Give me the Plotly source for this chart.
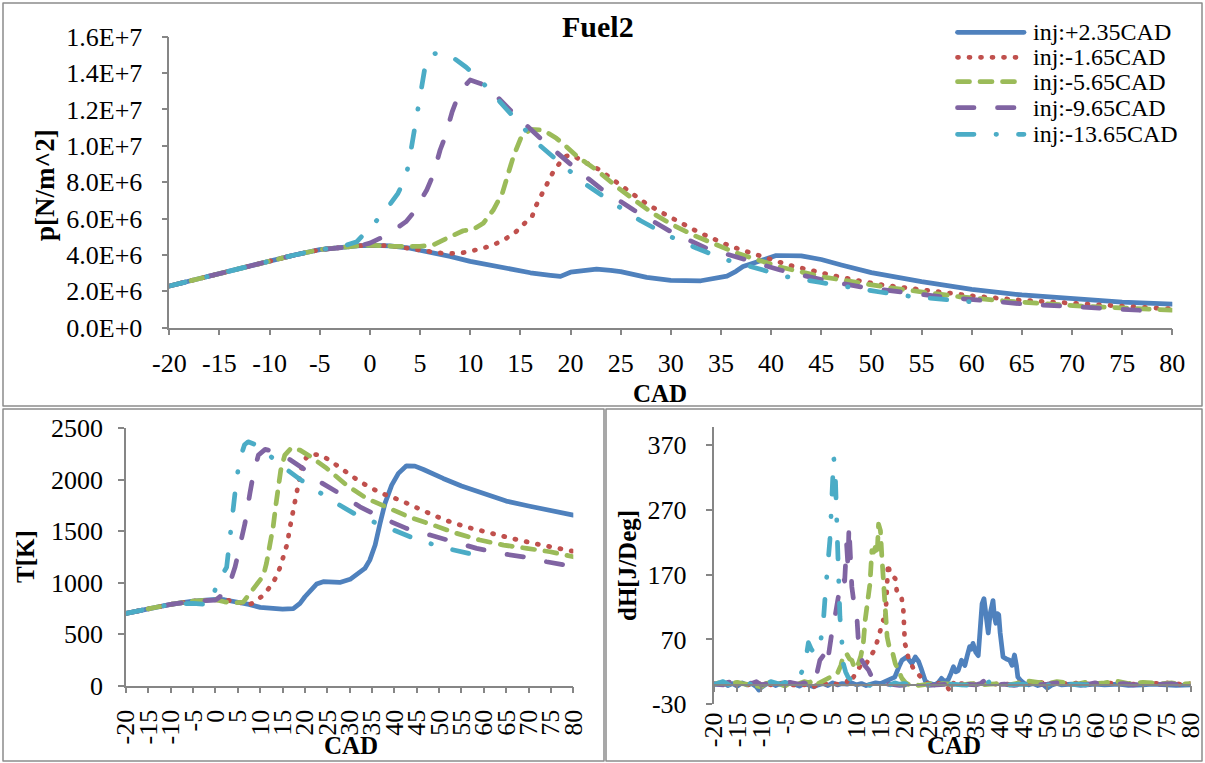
import plotly.graph_objects as go
import numpy as np

W, H = 1205, 763
def fx(px): return px / W
def fy(py): return 1 - py / H

FONT = "Liberation Serif"
SERIES = ["inj:+2.35CAD", "inj:-1.65CAD", "inj:-5.65CAD", "inj:-9.65CAD", "inj:-13.65CAD"]
COLORS = ["#4F81BD", "#C0504D", "#9BBB59", "#8064A2", "#4BACC6"]
DASHES = ["solid", "1px,10.5px", "12px,10.5px", "16.5px,23.5px", "16.5px,22px,0.5px,22px"]
LW = 4.75

cad_common = [-20, -16, -12.5, -10, -7.5, -5, -3, -1]
p_common = [2.29, 2.84, 3.36, 3.68, 4.00, 4.29, 4.43, 4.51]
p_cad = [
    cad_common + [0.5, 2, 4, 6, 8, 10, 12, 14, 16, 18, 19, 20, 21, 22.6, 24, 25, 27.6, 30, 33, 34.5, 35.6,
                  36.5, 37.2, 38.5, 39.5, 40.5, 43, 45, 47, 50, 55, 60, 65, 70, 75, 80],
    cad_common + [0.5, 2, 4.3, 6.7, 8, 9, 10.2, 11.3, 12.5, 13.5, 14.5, 15.3, 16.2, 16.6, 17.1, 17.6, 18.2,
                  18.9, 19.6, 20.2, 20.9, 22.8, 23.8, 24.8, 26.6, 27.6, 29.6, 30.8, 32.8, 35.9, 37.1, 38.3,
                  39.4, 41.7, 43.9, 46.2, 50.7, 55.5, 60.2, 64.8, 69.5, 74.1, 78.8, 80],
    cad_common + [0.5, 2.3, 5, 6.3, 7.3, 9.3, 10.3, 11.3, 12.3, 13.2, 13.8, 14.3, 15.1, 16, 17.3, 18.6, 19.6,
                  20.6, 22.6, 24.6, 26.6, 28.2, 30.2, 32.2, 34.2, 36.5, 38.5, 40.8, 45.1, 47.2, 51.8, 58.8,
                  63.1, 70.1, 74.8, 80],
    cad_common + [0, 1, 2.5, 3.6, 4.3, 5.0, 5.67, 6.3, 7, 7.5, 8.2, 8.7, 9.3, 10, 11, 11.8, 14.3, 17, 20.3,
                  23, 26.3, 30, 33.6, 37.6, 40.9, 45.2, 49.2, 56.9, 65.2, 73.2, 78],
    [-20, -16, -12.5, -10, -7.5, -5, -3, -1.3, -0.2, 1.4, 2.8, 3.6, 4.0, 4.6, 5.0, 5.5, 6.1, 7, 7.8, 9.6, 11,
     12.5, 14.6, 16.7, 19, 21.6, 24.3, 27, 29.6, 32.6, 35.6, 38.6, 41.6, 44.8, 47.8, 51, 54.2, 57.3, 59.8],
]
p_val = [
    p_common + [4.53, 4.50, 4.37, 4.17, 3.92, 3.65, 3.45, 3.20, 3.02, 2.88, 2.82, 3.05, 3.13, 3.22, 3.15,
                3.08, 2.77, 2.60, 2.58, 2.70, 2.84, 3.10, 3.36, 3.60, 3.82, 3.97, 3.95, 3.75, 3.45, 3.03,
                2.53, 2.11, 1.80, 1.58, 1.41, 1.29],
    p_common + [4.53, 4.50, 4.33, 4.12, 4.08, 4.09, 4.23, 4.37, 4.60, 4.88, 5.24, 5.68, 6.16, 6.75, 7.30,
                7.90, 8.49, 9.04, 9.44, 9.50, 9.25, 8.71, 8.30, 7.94, 7.20, 6.80, 6.18, 5.83, 5.24, 4.49,
                4.27, 4.05, 3.85, 3.45, 3.17, 2.86, 2.38, 2.03, 1.74, 1.52, 1.34, 1.21, 1.07, 1.04],
    p_common + [4.53, 4.47, 4.47, 4.55, 4.82, 5.33, 5.40, 5.74, 6.47, 7.39, 8.49, 9.40, 10.50, 10.90,
                10.87, 10.41, 9.95, 9.44, 8.67, 7.75, 6.93, 6.29, 5.65, 5.10, 4.64, 4.12, 3.76, 3.35, 2.80,
                2.62, 2.20, 1.70, 1.48, 1.21, 1.10, 0.97],
    p_common + [4.65, 4.91, 5.40, 5.83, 6.29, 6.90, 7.57, 8.39, 9.77, 10.50, 11.87, 12.60, 13.20, 13.62,
                13.43, 13.20, 11.79, 10.41, 8.85, 7.66, 6.47, 5.28, 4.36, 3.72, 3.17, 2.62, 2.22, 1.70,
                1.30, 1.07, 0.92],
    [2.29, 2.84, 3.36, 3.68, 4.00, 4.29, 4.43, 4.73, 5.41, 6.32, 7.39, 8.30, 9.44, 11.30, 12.89, 14.35,
     15.05, 15.10, 15.05, 14.32, 13.62, 12.70, 11.42, 10.14, 9.04, 7.85, 6.84, 5.88, 5.10, 4.36, 3.72,
     3.27, 2.80, 2.50, 2.22, 1.95, 1.70, 1.56, 1.43],
]
p_ticks = [0, 2e6, 4e6, 6e6, 8e6, 1e7, 1.2e7, 1.4e7, 1.6e7]
p_ticktext = ["0.0E+0", "2.0E+6", "4.0E+6", "6.0E+6", "8.0E+6", "1.0E+7", "1.2E+7", "1.4E+7", "1.6E+7"]

t_cad = [
    [-20, -15, -10, -5, -2, 0, 2, 5, 7.5, 10, 12.5, 15, 17.4, 18.9, 20, 21.1, 22.6, 24.1, 27.8, 30.1, 31.9,
     33.4, 34.5, 35.7, 36.8, 37.9, 39.4, 40.9, 42.7, 44.6, 46.5, 48.7, 50.9, 55, 60, 65, 70, 75, 80],
    [-20, -15, -10, -5, -2, 0, 3, 5, 6.2, 7.5, 8.6, 10, 10.7, 12.4, 13.7, 14.6, 15.3, 16.1, 16.5, 17, 17.4,
     17.9, 18.5, 19, 19.5, 21.1, 23.6, 25.8, 28, 32.3, 36.8, 41.6, 46.5, 51.3, 56.4, 61.4, 66.2, 71.8, 77, 80],
    [-20, -15, -10, -5, -2, 0, 2, 4, 6.2, 7.7, 9.2, 10.7, 11.4, 12.2, 12.9, 13.5, 14.1, 14.6, 15.5, 17,
     18.9, 21.1, 24.9, 29.3, 33.8, 38.6, 43.5, 48.7, 53.9, 59.1, 64.4, 69.6, 74.8, 80],
    [-20, -15, -10, -5, -2, 0, 1, 2, 3.2, 4.4, 5.5, 6.6, 7.7, 8.5, 9.6, 11.1, 11.8, 15.9, 19.6, 23.3, 27.1,
     32.3, 37.5, 42.7, 48, 53.2, 58.4, 63.6, 68.8, 74, 78.1],
    [-20, -15, -10, -5, -2, -1, 0.4, 2.5, 2.9, 3.6, 4.2, 4.7, 5.5, 6.5, 7.3, 9.2, 10.7, 14.4, 18.9, 21.9,
     26.2, 31.6, 39, 45.7, 52.4, 59.9],
]
t_val = [
    [703, 751, 790, 822, 833, 838, 835, 816, 790, 761, 748, 743, 748, 800, 864, 913, 987, 1010, 1003, 1033,
     1084, 1139, 1220, 1366, 1577, 1771, 1948, 2062, 2136, 2133, 2100, 2062, 2013, 1939, 1861, 1793, 1745,
     1699, 1657],
    [703, 751, 790, 822, 833, 835, 828, 810, 790, 790, 806, 850, 880, 971, 1065, 1169, 1279, 1388, 1502,
     1618, 1732, 1842, 1955, 2070, 2175, 2250, 2240, 2181, 2110, 1981, 1874, 1796, 1699, 1609, 1538, 1480,
     1431, 1376, 1334, 1305],
    [703, 751, 790, 822, 833, 835, 815, 805, 812, 897, 978, 1068, 1188, 1350, 1544, 1754, 1932, 2094, 2240,
     2311, 2288, 2230, 2110, 1948, 1819, 1732, 1635, 1560, 1480, 1415, 1366, 1334, 1301, 1252],
    [703, 751, 790, 822, 826, 831, 864, 920, 994, 1155, 1382, 1577, 1868, 2062, 2240, 2295, 2288, 2217,
     2110, 1981, 1883, 1738, 1625, 1528, 1463, 1398, 1334, 1285, 1252, 1204, 1172],
    [703, 751, 790, 800, 790, 800, 1000, 1150, 1300, 1592, 1850, 2000, 2208, 2340, 2369, 2337, 2288, 2149,
     2004, 1916, 1793, 1657, 1528, 1408, 1327, 1252],
]
t_ticks = [0, 500, 1000, 1500, 2000, 2500]

h_cad = [
    [-20, -19, -18, -17, -16, -15, -14, -13, -12, -11, -10.5, -10, -9, -8, -7, -6, -5, -4, -3, -2, -1, 0, 1,
     2, 3, 4, 5, 6, 7, 8, 9, 10, 11, 12, 13, 14, 15, 16, 17, 18, 19, 19.5, 20.5, 21, 21.6, 22.3, 23, 23.5,
     24.4, 25, 26.4, 27.2, 27.8, 28.5, 29.2, 29.8, 30.3, 30.8, 31.3, 32, 32.7, 33.2, 33.7, 34.1, 34.4, 35,
     35.5, 36, 36.3, 36.7, 37, 37.3, 37.6, 38, 38.3, 38.6, 38.9, 39.2, 39.5, 39.8, 40.1, 40.4, 40.7, 41.4,
     42.1, 42.6, 43.1, 43.5, 43.8, 44.5, 45.2, 46, 47, 48, 49, 50, 51, 52, 53, 55, 57, 60, 62, 65, 67, 70,
     72, 75, 77, 80],
    [-20, -18, -16, -14, -12, -10, -8, -6, -4, -2, 0, 1, 2, 3, 4, 5, 6, 7, 8, 8.5, 9, 10, 11.1, 11.8, 12.5,
     13, 13.5, 14.2, 14.9, 15.2, 15.6, 16, 16.3, 16.6, 17, 17.5, 18.1, 18.4, 19.1, 19.4, 19.8, 20, 20.1,
     20.5, 20.8, 21.3, 21.9, 22.5, 23.3, 24.4, 25, 26, 27, 28, 29, 29.5, 30, 30.5, 31, 32, 34, 36, 38, 40,
     42, 44, 46, 48, 50, 52, 55, 58, 60, 62, 65, 68, 70, 72, 75, 78, 80],
    [-20, -19, -17, -15, -14, -12, -10, -9, -8, -6, -5, -4, -3, -2, -1, 0, 1, 2, 3, 4, 5, 5.5, 6, 6.7, 7.2,
     7.9, 8.5, 9, 9.6, 10, 10.4, 10.9, 11.4, 11.8, 12.1, 12.5, 12.8, 13.2, 13.6, 13.9, 14.3, 14.6, 15,
     15.3, 15.7, 16, 16.4, 16.8, 17.4, 18.1, 18.8, 19.5, 20.3, 21, 22, 23, 25, 26, 27, 28, 30, 32, 34, 36,
     38, 40, 42, 44, 46, 48, 50, 52, 54, 56, 58, 60, 62, 64, 65, 67, 70, 72, 74, 76, 78, 80],
    [-20, -18, -17, -16, -15, -14, -13, -12, -11, -10, -8, -6, -4, -2, -1, -0.1, 0.5, 1, 1.5, 2.3, 3, 3.5,
     4, 4.4, 4.8, 5.1, 5.6, 6.1, 6.5, 7.2, 7.5, 7.9, 8.2, 8.4, 8.5, 8.7, 9, 9.5, 10.1, 10.4, 11.1, 11.7,
     12.5, 13, 13.5, 14, 15, 17, 19, 21, 23, 25, 27, 29, 31, 33, 35, 36, 37, 37.5, 38, 39, 41, 43, 45, 47,
     50, 52, 54, 56, 58, 60, 62, 64, 66, 68, 70, 72, 74, 76, 78],
    [-20, -19, -18, -17, -16, -15, -14, -13, -12, -11, -10, -9, -8, -7, -6, -5, -4, -3, -2.2, -1.5, -0.8,
     -0.1, 0.5, 1.2, 1.8, 2.3, 3, 3.5, 4.1, 4.4, 4.6, 4.8, 5, 5.2, 5.5, 5.7, 5.9, 6.1, 6.3, 6.5, 6.8, 7.2,
     7.7, 8.2, 9.3, 10, 11, 12, 13, 14, 15, 16, 17, 18, 19, 20, 21, 22, 24, 26, 28, 30, 32, 34, 36, 37.5,
     38, 39, 40, 42, 44, 46, 48, 50, 52, 54, 56, 58, 60],
]
h_val = [
    [2, 1, 4, -1, 2, -2, 3, 0, 2, -3, -8, -4, 1, 3, -1, 2, 0, 3, 1, -2, 2, -1, -3, 0, 2, -1, 3, 0, 2, 1, 3,
     0, 2, -1, 1, 3, 2, 5, 8, 12, 30, 38, 43, 38, 33, 43, 36, 26, 6, 3, 0, 4, 10, 5, 8, 18, 28, 20, 22, 38,
     30, 45, 59, 55, 64, 50, 45, 95, 125, 133, 115, 85, 80, 110, 125, 130, 105, 95, 110, 108, 80, 55, 43,
     40, 38, 30, 46, 30, 12, 6, 2, 0, 2, -1, 1, -5, 0, 2, 0, 1, -1, 1, 0, 1, -1, 0, 1, 0, -1, 0],
    [1, 3, 0, 2, -1, 2, 0, 3, 1, -2, 2, -3, 1, 3, 0, 2, 1, 3, 5, 12, 8, 20, 33, 30, 38, 45, 51, 64, 82, 90,
     100, 95, 136, 187, 171, 168, 164, 146, 141, 136, 115, 84, 64, 55, 43, 35, 25, 20, 12, 4, 2, 0, 3, 1,
     -2, -10, -3, 5, 0, 2, 1, 3, 0, 2, 1, 3, 2, 4, 3, 1, 3, 2, 1, 3, 2, 1, 3, 2, 3, 1, 2],
    [0, 3, 1, 4, 2, 0, -3, 2, 4, 1, -2, 3, 0, 2, 5, 3, 8, 2, 6, 10, 12, 15, 18, 30, 45, 48, 40, 38, 25, 30,
     33, 45, 64, 100, 115, 130, 156, 207, 205, 212, 200, 248, 238, 197, 151, 105, 74, 60, 54, 33, 20, 10,
     3, 0, 2, -1, 1, 3, 0, 2, 1, 0, 2, 0, 1, 2, 0, 3, 6, 4, 2, 5, 3, 1, 4, 2, 3, 6, 5, 2, 4, 3, 2, 3, 1, 2],
    [1, 0, 4, 5, 1, 3, 6, 2, 5, 0, 3, 2, 4, 1, 3, 0, 8, 15, 12, 38, 45, 30, 40, 64, 80, 89, 115, 141, 150,
     166, 160, 218, 182, 246, 220, 187, 151, 123, 100, 64, 38, 30, 23, 15, 5, 2, 0, 1, -1, 0, 1, -1, 0, 1,
     0, 1, 0, 2, 8, 12, 3, 0, 1, -1, 2, 0, 1, 3, 1, 2, 0, 3, 2, 1, 2, 0, 1, 0, 1, 2, 0],
    [0, 2, 5, 1, -2, 0, 3, 2, 1, -4, 0, 2, 5, 3, 1, 4, 2, 3, 7, 20, 33, 65, 55, 48, 52, 59, 95, 146, 192,
     223, 254, 289, 320, 351, 330, 289, 238, 180, 130, 105, 80, 33, 20, 12, 4, 2, 0, 3, -2, 1, 4, 2, 0, 3,
     1, 2, 0, 1, 0, -1, 0, 1, 0, -1, 0, 4, 5, 0, 1, 0, 1, 0, 1, 0, 1, 0, 1, 0, 1],
]
h_ticks = [-30, 70, 170, 270, 370]
h_ticktext = ["-30", "70", "170", "270", "370"]
cad_ticks = list(range(-20, 81, 5))
cad_ticktext = [str(v) for v in cad_ticks]

fig = go.Figure()
panels = [(p_cad, [[v * 1e6 for v in s] for s in p_val], "x", "y"),
          (t_cad, t_val, "x2", "y2"),
          (h_cad, h_val, "x3", "y3")]
for xs_all, ys_all, xa, ya in panels:
    for i in range(5):
        fig.add_trace(go.Scatter(
            x=xs_all[i], y=ys_all[i], mode="lines", name=SERIES[i], xaxis=xa, yaxis=ya,
            line=dict(color=COLORS[i], width=LW, dash=DASHES[i]), showlegend=False))
fig.add_trace(go.Scatter(x=[], y=[], xaxis="x4", yaxis="y3", showlegend=False))

AX = "#868686"
tickfont = dict(family=FONT, size=26, color="black")
common_ax = dict(showline=True, linecolor=AX, linewidth=1.5, ticks="outside", ticklen=6, tickwidth=1.5,
                 tickcolor=AX, showgrid=False, zeroline=False, tickfont=tickfont)

y3_top = 704.3 - (398 + 30) * 0.6483
y_zero = 704.3 - 30 * 0.6483

fig.update_layout(
    width=W, height=H, margin=dict(l=0, r=0, t=0, b=0, pad=0, autoexpand=False),
    paper_bgcolor="white", plot_bgcolor="rgba(0,0,0,0)", showlegend=False,
    xaxis=dict(common_ax, domain=[fx(169.3), fx(1172.3)], range=[-20, 80], anchor="y",
               tickvals=cad_ticks, ticktext=cad_ticktext, ticklabelstandoff=5),
    yaxis=dict(common_ax, domain=[fy(327.7), fy(36.7)], range=[0, 1.6e7], anchor="x",
               tickvals=p_ticks, ticktext=p_ticktext, ticklabelstandoff=14),
    xaxis2=dict(common_ax, domain=[fx(126), fx(573.3)], range=[-20, 80], anchor="y2",
                tickvals=cad_ticks, ticktext=cad_ticktext, tickangle=-90, ticklabelstandoff=6),
    yaxis2=dict(common_ax, domain=[fy(685.7), fy(428.3)], range=[0, 2500], anchor="x2",
                tickvals=t_ticks, ticklabelstandoff=10),
    xaxis3=dict(common_ax, domain=[fx(713.5), fx(1190.5)], range=[-20, 80], anchor="y3",
                tickvals=cad_ticks, ticktext=cad_ticktext, tickangle=-90, showline=False, ticks="",
                ticklabelstandoff=2),
    xaxis4=dict(common_ax, domain=[fx(713.5), fx(1190.5)], range=[-20, 80], anchor="free",
                overlaying="x3", position=fy(y_zero), tickvals=cad_ticks, showticklabels=False),
    yaxis3=dict(common_ax, domain=[fy(704.3), fy(y3_top)], range=[-30, 398], anchor="x3",
                tickvals=h_ticks, ticktext=h_ticktext, ticklabelstandoff=14),
)

for (x0, y0, x1, y1) in [(3, 3, 1202, 406), (3, 409, 604, 761), (606, 409, 1202, 761)]:
    fig.add_shape(type="rect", xref="paper", yref="paper", x0=fx(x0), x1=fx(x1), y0=fy(y1), y1=fy(y0),
                  line=dict(color="#8C8C8C", width=1.5), fillcolor="rgba(0,0,0,0)", layer="below")

bold = dict(family=FONT, size=25, color="black", weight="bold")
ann = [
    dict(text="Fuel2", x=fx(598), y=fy(27), font=dict(bold, size=30)),
    dict(text="CAD", x=fx(660), y=fy(393), font=bold),
    dict(text="p[N/m^2]", x=fx(45), y=fy(185), font=dict(bold, size=27), textangle=-90),
    dict(text="CAD", x=fx(351), y=fy(745), font=bold),
    dict(text="T[K]", x=fx(25), y=fy(557), font=bold, textangle=-90),
    dict(text="CAD", x=fx(954), y=fy(745), font=bold),
    dict(text="dH[J/Deg]", x=fx(627), y=fy(566), font=bold, textangle=-90),
]
for a in ann:
    fig.add_annotation(xref="paper", yref="paper", showarrow=False, xanchor="center", yanchor="middle", **a)

leg_y = [32.3, 57.3, 81.7, 107.7, 134.3]
for i in range(5):
    fig.add_shape(type="line", xref="paper", yref="paper", x0=fx(957.5), x1=fx(1024), y0=fy(leg_y[i]),
                  y1=fy(leg_y[i]), line=dict(color=COLORS[i], width=LW, dash=DASHES[i]))
    fig.add_annotation(xref="paper", yref="paper", showarrow=False, x=fx(1031), y=fy(leg_y[i]),
                       xanchor="left", yanchor="middle", text=SERIES[i],
                       font=dict(family=FONT, size=24, color="black"))

post = """
var gd = document.getElementById('{plot_id}');
gd.querySelectorAll('path.js-line, .shapelayer path').forEach(function(p){
  p.style.strokeLinecap = 'round'; p.style.strokeLinejoin = 'round';
});
"""
fig.write_html("out.html", post_script=post)
